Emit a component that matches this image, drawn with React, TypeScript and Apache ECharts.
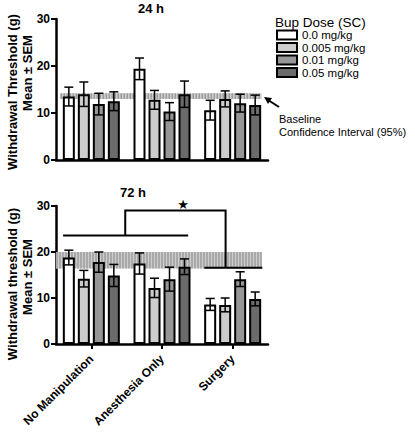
import React, { useEffect, useRef } from 'react';
import * as echarts from 'echarts';

const categories = ['No Manipulation', 'Anesthesia Only', 'Surgery'];
const doses = ['0.0 mg/kg', '0.005 mg/kg', '0.01 mg/kg', '0.05 mg/kg'];
const doseColors = ['#ffffff', '#cccccc', '#969696', '#6b6b6b'];

// 24 h, per dose, across categories
const mean24 = [
  [13.5, 19.4, 10.6],
  [14.0, 12.8, 13.0],
  [11.9, 10.3, 12.1],
  [12.5, 14.0, 11.7],
];
const sem24 = [
  [2.0, 2.3, 2.1],
  [2.6, 2.0, 1.7],
  [2.3, 1.9, 1.9],
  [2.0, 2.8, 2.1],
];
// 72 h
const mean72 = [
  [18.8, 17.5, 8.6],
  [14.2, 12.2, 8.5],
  [17.8, 14.1, 14.1],
  [14.9, 16.8, 9.8],
];
const sem72 = [
  [1.6, 2.3, 1.3],
  [1.8, 2.1, 1.5],
  [2.2, 2.6, 1.6],
  [2.4, 1.7, 1.5],
];
const baseline24 = [13.0, 14.2];
const baseline72 = [16.4, 20.0];
const yTicks = [0, 10, 20, 30];

const FONT = '"Liberation Sans", Arial, Helvetica, sans-serif';
const BAR_W = 12;
const BAR_STEP = 15;

function errData(means: number[][], sems: number[][]) {
  const out: number[][] = [];
  means.forEach((row, d) => row.forEach((m, c) => out.push([c, d, m, sems[d][c]])));
  return out;
}

function bandSeries(idx: number, range: number[], fromFrac: number, toFrac: number) {
  return {
    type: 'custom',
    xAxisIndex: idx,
    yAxisIndex: idx,
    z: 1,
    silent: true,
    data: [[0, range[0], range[1]]],
    encode: { x: 0, y: 1 },
    renderItem: (params: any, api: any) => {
      const c0 = api.coord([0, api.value(1)]);
      const c1 = api.coord([0, api.value(2)]);
      const bw = api.size([1, 0])[0];
      const x0 = c0[0] + fromFrac * bw;
      const x1 = c0[0] + toFrac * bw;
      const children: any[] = [
        { type: 'rect', shape: { x: x0, y: c1[1], width: x1 - x0, height: c0[1] - c1[1] }, style: { fill: '#cdcdcd' } },
      ];
      for (let x = x0 + 1; x < x1; x += 3) {
        children.push({
          type: 'line',
          shape: { x1: x, y1: c1[1], x2: x, y2: c0[1] },
          style: { stroke: '#9a9a9a', lineWidth: 1.4 },
        });
      }
      return { type: 'group', children };
    },
  };
}

function errSeries(idx: number, means: number[][], sems: number[][]) {
  return {
    type: 'custom',
    xAxisIndex: idx,
    yAxisIndex: idx,
    z: 5,
    silent: true,
    data: errData(means, sems),
    encode: { x: 0, y: 2 },
    renderItem: (params: any, api: any) => {
      const cat = api.value(0);
      const d = api.value(1);
      const m = api.value(2);
      const s = api.value(3);
      const c = api.coord([cat, m]);
      const x = c[0] + (d - 1.5) * BAR_STEP;
      const yt = api.coord([cat, m + s])[1];
      const yb = api.coord([cat, m - s])[1];
      const st = { stroke: '#000', lineWidth: 1.5 };
      return {
        type: 'group',
        children: [
          { type: 'line', shape: { x1: x, y1: yt, x2: x, y2: yb }, style: st },
          { type: 'line', shape: { x1: x - 4.5, y1: yt, x2: x + 4.5, y2: yt }, style: st },
          { type: 'line', shape: { x1: x - 4.5, y1: yb, x2: x + 4.5, y2: yb }, style: st },
        ],
      };
    },
  };
}

function barSeries(idx: number, means: number[][]) {
  return means.map((vals, d) => ({
    type: 'bar',
    name: doses[d],
    xAxisIndex: idx,
    yAxisIndex: idx,
    barWidth: BAR_W,
    barGap: '25%',
    z: 3,
    data: vals,
    itemStyle: { color: doseColors[d], borderColor: '#000', borderWidth: 2 },
  }));
}

function xAxis(idx: number, showLabels: boolean) {
  return {
    type: 'category',
    gridIndex: idx,
    data: categories,
    axisLine: { lineStyle: { color: '#000', width: 2.5 } },
    axisTick: { show: showLabels, alignWithLabel: true, length: 5, lineStyle: { color: '#000', width: 2 } },
    axisLabel: {
      show: showLabels,
      rotate: 45,
      margin: 13,
      color: '#000',
      fontFamily: FONT,
      fontWeight: 'bold',
      fontSize: 12,
    },
  };
}

function yAxis(idx: number) {
  return {
    type: 'value',
    gridIndex: idx,
    min: yTicks[0],
    max: yTicks[yTicks.length - 1],
    interval: 10,
    splitLine: { show: false },
    axisLine: { show: true, lineStyle: { color: '#000', width: 2.5 } },
    axisTick: { show: true, length: 5, lineStyle: { color: '#000', width: 2 } },
    axisLabel: { margin: 6, color: '#000', fontFamily: FONT, fontWeight: 'bold', fontSize: 12 },
  };
}

const bracketSeries = {
  type: 'custom',
  xAxisIndex: 1,
  yAxisIndex: 1,
  z: 6,
  silent: true,
  data: [[0, 23.6, 16.6, 29.0, 30.4]],
  encode: { x: 0, y: 1 },
  renderItem: (params: any, api: any) => {
    const bw = api.size([1, 0])[0];
    const cx = api.coord([0, 0])[0];
    const X = (f: number) => cx + f * bw;
    const yL = api.coord([0, api.value(1)])[1];
    const yR = api.coord([0, api.value(2)])[1];
    const yT = api.coord([0, api.value(3)])[1];
    const yS = api.coord([0, api.value(4)])[1];
    const st = { stroke: '#000', lineWidth: 2, fill: null };
    return {
      type: 'group',
      children: [
        { type: 'line', shape: { x1: X(-0.4), y1: yL, x2: X(1.37), y2: yL }, style: st },
        { type: 'line', shape: { x1: X(1.6), y1: yR, x2: X(2.42), y2: yR }, style: st },
        {
          type: 'polyline',
          shape: { points: [[X(0.48), yL], [X(0.48), yT], [X(1.9), yT], [X(1.9), yR]] },
          style: st,
        },
        {
          type: 'text',
          style: {
            text: '★',
            x: X(1.3),
            y: yS,
            align: 'center',
            verticalAlign: 'middle',
            fontSize: 13,
            fill: '#000',
            fontFamily: 'DejaVu Sans',
          },
        },
      ],
    };
  },
};

export default function App() {
  const ref = useRef<HTMLDivElement>(null);
  useEffect(() => {
    document.body.style.margin = '0';
    const chart = echarts.init(ref.current!, null, { renderer: 'svg' });
    const option: any = {
      animation: false,
      backgroundColor: '#fff',
      textStyle: { fontFamily: FONT },
      grid: [
        { left: 56, top: 19, width: 212, height: 141 },
        { left: 56, top: 206, width: 212, height: 138 },
      ],
      xAxis: [xAxis(0, false), xAxis(1, true)],
      yAxis: [yAxis(0), yAxis(1)],
      legend: {
        data: doses,
        orient: 'vertical',
        left: 276,
        top: 29,
        itemWidth: 20,
        itemHeight: 9,
        itemGap: 0.5,
        padding: 0,
        icon: 'rect',
        selectedMode: false,
        textStyle: { fontFamily: FONT, fontSize: 11.5, color: '#000', lineHeight: 11.5 },
      },
      graphic: [
        {
          type: 'text',
          x: 275,
          y: 22,
          style: { text: 'Bup Dose (SC)', fontFamily: FONT, fontSize: 13.5, fill: '#000', verticalAlign: 'middle' },
        },
        {
          type: 'text',
          x: 151,
          y: 8,
          style: { text: '24 h', fontFamily: FONT, fontSize: 13, fontWeight: 'bold', fill: '#000', align: 'center', verticalAlign: 'middle' },
        },
        {
          type: 'text',
          x: 133,
          y: 192,
          style: { text: '72 h', fontFamily: FONT, fontSize: 13, fontWeight: 'bold', fill: '#000', align: 'center', verticalAlign: 'middle' },
        },
        {
          type: 'text',
          x: 12,
          y: 92,
          rotation: Math.PI / 2,
          style: { text: 'Withdrawal Threshold (g)', fontFamily: FONT, fontSize: 13, fontWeight: 'bold', fill: '#000', align: 'center', verticalAlign: 'middle' },
        },
        {
          type: 'text',
          x: 27,
          y: 73,
          rotation: Math.PI / 2,
          style: { text: 'Mean ± SEM', fontFamily: FONT, fontSize: 13, fontWeight: 'bold', fill: '#000', align: 'center', verticalAlign: 'middle' },
        },
        {
          type: 'text',
          x: 12,
          y: 284,
          rotation: Math.PI / 2,
          style: { text: 'Withdrawal threshold (g)', fontFamily: FONT, fontSize: 13, fontWeight: 'bold', fill: '#000', align: 'center', verticalAlign: 'middle' },
        },
        {
          type: 'text',
          x: 27,
          y: 277,
          rotation: Math.PI / 2,
          style: { text: 'Mean ± SEM', fontFamily: FONT, fontSize: 13, fontWeight: 'bold', fill: '#000', align: 'center', verticalAlign: 'middle' },
        },
        {
          type: 'line',
          shape: { x1: 279, y1: 107, x2: 268, y2: 100 },
          style: { stroke: '#000', lineWidth: 2 },
        },
        {
          type: 'polygon',
          shape: { points: [[264, 97], [272, 98], [268, 104]] },
          style: { fill: '#000' },
        },
        {
          type: 'text',
          x: 279,
          y: 119,
          style: { text: 'Baseline', fontFamily: FONT, fontSize: 11, fill: '#000', verticalAlign: 'middle' },
        },
        {
          type: 'text',
          x: 279,
          y: 132,
          style: { text: 'Confidence Interval (95%)', fontFamily: FONT, fontSize: 11, fill: '#000', verticalAlign: 'middle' },
        },
      ],
      series: [
        bandSeries(0, baseline24, -0.44, 2.41),
        bandSeries(1, baseline72, -0.5, 2.41),
        ...barSeries(0, mean24),
        ...barSeries(1, mean72),
        errSeries(0, mean24, sem24),
        errSeries(1, mean72, sem72),
        bracketSeries,
      ],
    };
    chart.setOption(option);
    return () => chart.dispose();
  }, []);
  return <div ref={ref} style={{ width: 415, height: 440 }} />;
}
